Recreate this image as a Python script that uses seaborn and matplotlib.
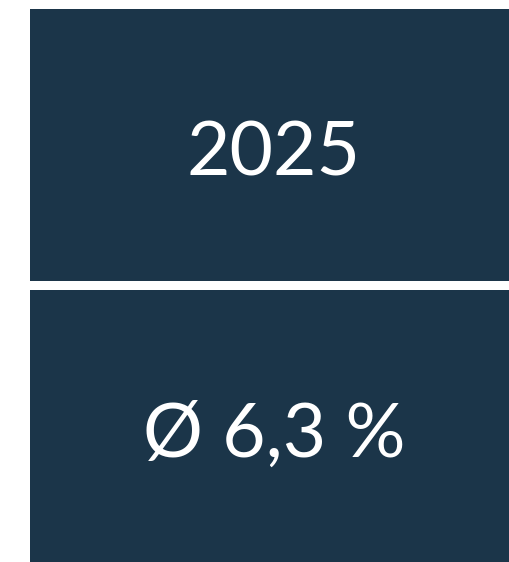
import matplotlib
matplotlib.use("Agg")
import matplotlib.pyplot as plt
import matplotlib.transforms as mtransforms
import seaborn as sns
import pandas as pd

panels = ["2025", "Ø 6,3 %"]
fill = [1.0, 1.0]

df = pd.DataFrame({"panel": panels, "fill": fill})

sns.set_theme(style="white")
plt.rcParams["font.family"] = ["Lato", "DejaVu Sans"]

fig = plt.figure(figsize=(5.10, 5.62), dpi=100)
ax = fig.add_axes([30 / 510, 0, 480 / 510, 1 - 9 / 562])

w = 1 - 8 / 280.5
sns.barplot(data=df, x="fill", y="panel", orient="h", color="#1b3549",
            saturation=1, width=w, ax=ax, edgecolor="none", linewidth=0)

ax.set_xlim(0, 0.99)
ax.set_ylim(1 + w / 2, -w / 2)
ax.set_axis_off()

trans = mtransforms.offset_copy(ax.transData, fig=fig, x=4, y=-9, units="dots")
for i, label in enumerate(panels):
    ax.text(0.495, i, label, ha="center", va="center", color="white",
            fontsize=54, fontweight="normal", transform=trans)

fig.savefig("out.png", dpi=100, facecolor="white")
